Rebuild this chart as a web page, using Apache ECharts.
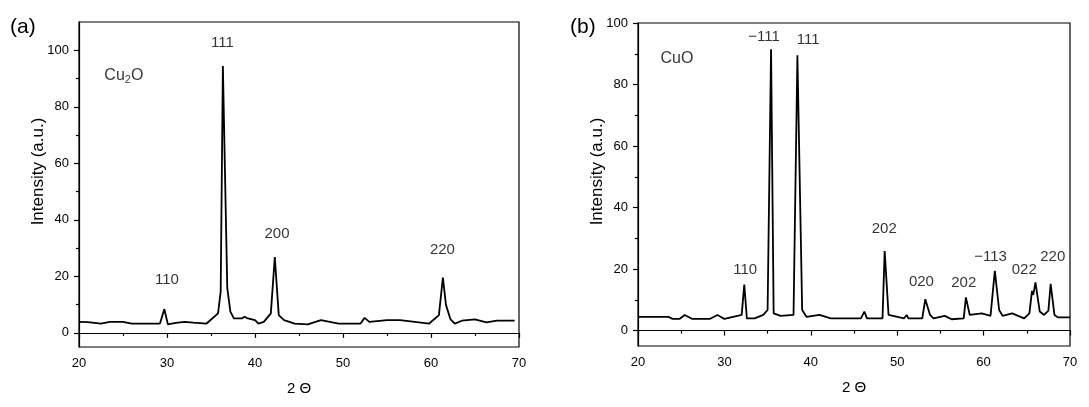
<!DOCTYPE html>
<html>
<head>
<meta charset="utf-8">
<script src="https://cdn.jsdelivr.net/npm/echarts@6/dist/echarts.min.js"></script>
<style>
  html, body { margin: 0; padding: 0; background: #fff; }
  #chart { width: 1089px; height: 407px; }
</style>
</head>
<body>
<div id="chart"></div>
<script>
// (a) Cu2O 衍射谱 [2θ, 强度]
var cu2oPattern = [
    [20, 3.9], [21, 3.8], [22.5, 3.3], [23.5, 3.9], [25, 3.9], [26, 3.3], [29.2, 3.3],
    [29.7, 8.4], [30.1, 3.0], [31, 3.5], [32, 3.9], [33, 3.6], [34.5, 3.3],
    [35.8, 6.9], [36.1, 14.6], [36.35, 94.4], [36.85, 15.8], [37.2, 7.5], [37.6, 5.1],
    [38.5, 5.1], [38.8, 5.7], [39.2, 5.1], [40, 4.5], [40.4, 3.3], [41, 3.9],
    [41.8, 6.9], [42.25, 26.8], [42.7, 6.3], [43.3, 4.5], [44.5, 3.3], [46, 3.0],
    [47.5, 4.5], [49.5, 3.3], [52, 3.3], [52.45, 5.3], [53, 3.9], [55, 4.5],
    [56.5, 4.5], [59.8, 3.3], [60.9, 6.3], [61.35, 19.6], [61.7, 9.9], [62.2, 4.9],
    [62.7, 3.3], [63.5, 4.3], [65, 4.8], [66.3, 3.7], [67.5, 4.3], [69.5, 4.3]
];
// (b) CuO 衍射谱
var cuoPattern = [
    [20, 4.5], [23.5, 4.5], [24, 3.8], [24.8, 3.8], [25.4, 5.1], [26.3, 3.8], [28.3, 3.8],
    [29.2, 5.1], [30, 3.8], [31, 4.5], [32, 5.1], [32.3, 15.0], [32.6, 4.0], [33.5, 4.0],
    [34.5, 5.1], [35.0, 6.7], [35.4, 91.5], [35.7, 5.6], [36.5, 4.8], [38.0, 5.1],
    [38.45, 89.5], [39.0, 6.7], [39.5, 4.5], [41, 5.1], [42.3, 4.0], [45.8, 4.0],
    [46.2, 6.2], [46.5, 4.0], [48.3, 4.0], [48.55, 25.9], [49.0, 5.1], [50.8, 4.0],
    [51.1, 5.1], [51.3, 4.0], [52.9, 4.0], [53.25, 10.2], [53.8, 5.1], [54.2, 4.0],
    [55.5, 4.8], [56.3, 3.7], [57.7, 4.0], [57.95, 10.8], [58.4, 5.1], [59.8, 5.6],
    [60.8, 4.8], [61.3, 19.4], [61.8, 6.7], [62.2, 4.8], [63.3, 5.6], [64.7, 4.0],
    [65.3, 5.6], [65.6, 12.9], [65.75, 11.6], [66.0, 15.7], [66.5, 6.2], [67.0, 5.1],
    [67.5, 6.5], [67.76, 15.2], [68.2, 5.1], [68.6, 4.3], [70, 4.3]
];

// 峰标注 [2θ, 强度, 文本]
var cu2oPeakLabels = [
    [30.0, 18.8, '110'], [36.3, 102.5, '111'], [42.5, 35.2, '200'], [61.3, 29.5, '220']
];
var cuoPeakLabels = [
    [32.4, 19.9, '110'], [34.6, 95.6, '\u2212111'], [39.7, 94.4, '111'], [48.5, 33.2, '202'],
    [52.8, 15.9, '020'], [57.7, 15.6, '202'], [60.8, 24.0, '\u2212113'], [64.7, 19.9, '022'],
    [68.0, 24.0, '220']
];
// 样品名称
var sampleNames = [[25.1, 91.2, 'Cu2O'], [24.5, 88.4, 'CuO']];

var xTicks = { min: 20, max: 70, interval: 10 };
var yMajorTicks = [0, 20, 40, 60, 80, 100];
var yMinorTicksA = [10, 30, 50, 70, 90];
var yMinorTicksB = [10, 30, 50, 70, 90];

var FONT = 'Liberation Sans, Arial, sans-serif';
var INK = '#000';

function xAxisFor(gridIndex) {
    return {
        type: 'value', gridIndex: gridIndex,
        min: xTicks.min, max: xTicks.max, interval: xTicks.interval,
        name: '2 \u0398', nameLocation: 'middle', nameGap: 34,
        nameTextStyle: { fontFamily: FONT, fontSize: 15, color: INK },
        axisLine: { show: true, lineStyle: { color: INK, width: 1.2 } },
        axisTick: { show: true, inside: false, length: 5, lineStyle: { color: INK, width: 1.2 } },
        minorTick: { show: true, splitNumber: 2, length: 3, lineStyle: { color: INK, width: 1.2 } },
        axisLabel: { margin: 10, fontFamily: FONT, fontSize: 13, color: INK },
        splitLine: { show: false }
    };
}

function yAxesFor(gridIndex, max, minors) {
    return [{
        type: 'value', gridIndex: gridIndex, min: -5, max: max,
        name: 'Intensity (a.u.)', nameLocation: 'middle', nameGap: 32, nameMoveOverlap: false,
        // 标题略偏上（左侧留白使旋转后的文字上移）
        nameTextStyle: { fontFamily: FONT, fontSize: 17, color: INK, padding: [0, 0, 0, 26] },
        axisLine: { show: true, lineStyle: { color: INK, width: 1.2 } },
        axisTick: { show: true, length: 5, customValues: yMajorTicks, lineStyle: { color: INK, width: 1.2 } },
        axisLabel: { margin: 10, fontFamily: FONT, fontSize: 13, color: INK, customValues: yMajorTicks },
        splitLine: { show: false }
    }, {
        // 次刻度
        type: 'value', gridIndex: gridIndex, min: -5, max: max, position: 'left',
        axisLine: { show: false },
        axisTick: { show: true, length: 3, customValues: minors, lineStyle: { color: INK, width: 1.2 } },
        axisLabel: { show: false },
        splitLine: { show: false }
    }];
}

function labelSeries(xi, yi, list) {
    return {
        type: 'scatter', xAxisIndex: xi, yAxisIndex: yi, symbolSize: 0, silent: true,
        data: list.map(function (d) { return { value: [d[0], d[1]], name: d[2] }; }),
        label: {
            show: true, position: 'inside', formatter: '{b}',
            fontFamily: FONT, fontSize: 15, color: INK
        },
        z: 5
    };
}

var chart = echarts.init(document.getElementById('chart'), null, { renderer: 'canvas' });
var yA = yAxesFor(0, 110, yMinorTicksA);
var yB = yAxesFor(1, 100, yMinorTicksB);

chart.setOption({
    animation: false,
    backgroundColor: '#fff',
    title: [
        { text: '(a)', left: 5, top: 12, textStyle: { fontFamily: FONT, fontSize: 21, fontWeight: 'normal', color: INK } },
        { text: '(b)', left: 565, top: 12, textStyle: { fontFamily: FONT, fontSize: 21, fontWeight: 'normal', color: INK } }
    ],
    grid: [
        { left: 79, right: 570, top: 22, bottom: 60, show: true, borderColor: INK, borderWidth: 1.2, backgroundColor: 'transparent' },
        { left: 638, right: 19, top: 23, bottom: 61, show: true, borderColor: INK, borderWidth: 1.2, backgroundColor: 'transparent' }
    ],
    xAxis: [xAxisFor(0), xAxisFor(1)],
    yAxis: [yA[0], yA[1], yB[0], yB[1]],
    series: [
        {
            type: 'line', xAxisIndex: 0, yAxisIndex: 0, data: cu2oPattern,
            showSymbol: false, smooth: false,
            lineStyle: { color: '#000', width: 1.8 }
        },
        {
            type: 'line', xAxisIndex: 1, yAxisIndex: 2, data: cuoPattern,
            showSymbol: false, smooth: false,
            lineStyle: { color: '#000', width: 1.8 }
        },
        labelSeries(0, 0, cu2oPeakLabels),
        labelSeries(1, 2, cuoPeakLabels),
        {
            type: 'scatter', xAxisIndex: 0, yAxisIndex: 0, symbolSize: 0, silent: true,
            data: [{ value: [sampleNames[0][0], sampleNames[0][1]], name: sampleNames[0][2] }],
            label: {
                show: true, position: 'inside',
                formatter: '{m|Cu}{s|2}{m|O}',
                rich: {
                    m: { fontFamily: FONT, fontSize: 16, color: INK, lineHeight: 22 },
                    s: { fontFamily: FONT, fontSize: 11, color: INK, lineHeight: 22, padding: [10, 0, 0, 0] }
                }
            }
        },
        {
            type: 'scatter', xAxisIndex: 1, yAxisIndex: 2, symbolSize: 0, silent: true,
            data: [{ value: [sampleNames[1][0], sampleNames[1][1]], name: sampleNames[1][2] }],
            label: { show: true, position: 'inside', formatter: '{b}', fontFamily: FONT, fontSize: 16, color: INK }
        }
    ]
});
</script>
</body>
</html>
